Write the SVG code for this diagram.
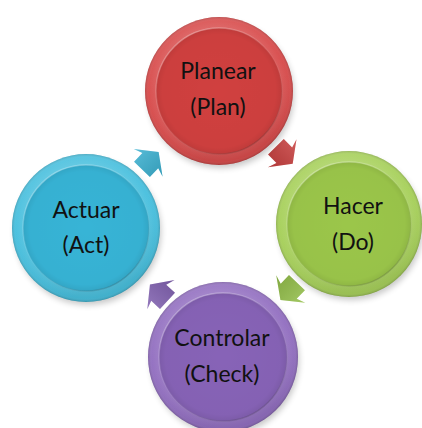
<svg xmlns="http://www.w3.org/2000/svg" width="422" height="428" viewBox="0 0 422 428">
  <style>
    .label { font-family: Lato, "Liberation Sans", sans-serif; font-size: 23px; fill: #111; text-anchor: middle; }
    .shade { fill: url(#rimShade); }
    .light { fill: url(#topLight); }
    .bevel { fill: url(#innerBevel); }
    .edge { fill: none; stroke: url(#edgeStroke); stroke-width: 1.5; }
    .shadow { fill: #000; opacity: 0.22; filter: url(#soft); }
    .arrow-shade { fill: url(#arrowLight); }
  </style>
  <defs>
    <filter id="soft" x="-20%" y="-20%" width="140%" height="140%">
      <feGaussianBlur stdDeviation="3"/>
    </filter>
    <!-- soft shading toward the outer edge of each disc -->
    <radialGradient id="rimShade" cx="0.5" cy="0.5" r="0.5">
      <stop offset="0" stop-color="#000" stop-opacity="0"/>
      <stop offset="0.86" stop-color="#fff" stop-opacity="0.08"/>
      <stop offset="0.95" stop-color="#fff" stop-opacity="0.02"/>
      <stop offset="1" stop-color="#000" stop-opacity="0.16"/>
    </radialGradient>
    <linearGradient id="topLight" x1="0" y1="0" x2="0.3" y2="1">
      <stop offset="0" stop-color="#fff" stop-opacity="0.14"/>
      <stop offset="0.5" stop-color="#fff" stop-opacity="0.03"/>
      <stop offset="1" stop-color="#000" stop-opacity="0.08"/>
    </linearGradient>
    <!-- inner face of each disc -->
    <radialGradient id="innerBevel" cx="0.5" cy="0.5" r="0.5">
      <stop offset="0" stop-color="#000" stop-opacity="0"/>
      <stop offset="0.9" stop-color="#000" stop-opacity="0.02"/>
      <stop offset="1" stop-color="#000" stop-opacity="0.08"/>
    </radialGradient>
    <linearGradient id="edgeStroke" x1="0.2" y1="0" x2="0.8" y2="1">
      <stop offset="0" stop-color="#fff" stop-opacity="0.35"/>
      <stop offset="0.5" stop-color="#fff" stop-opacity="0.05"/>
      <stop offset="1" stop-color="#000" stop-opacity="0.2"/>
    </linearGradient>
    <linearGradient id="arrowLight" x1="0" y1="0" x2="0" y2="1">
      <stop offset="0" stop-color="#fff" stop-opacity="0.15"/>
      <stop offset="1" stop-color="#000" stop-opacity="0.12"/>
    </linearGradient>
    <!-- block arrow pointing along +x, centred on the origin -->
    <polygon id="arrowShape" points="-13,-11 -1,-11 -4,-20 11,0 -4,20 -1,11 -13,11"/>
  </defs>

  <g id="connectors">
    <g transform="translate(285,156) rotate(45.6)">
      <use href="#arrowShape" fill="#c9403f"/>
      <use href="#arrowShape" class="arrow-shade"/>
    </g>
    <g transform="translate(288,292) rotate(133.5)">
      <use href="#arrowShape" fill="#94c04a"/>
      <use href="#arrowShape" class="arrow-shade"/>
    </g>
    <g transform="translate(158,292) rotate(223)">
      <use href="#arrowShape" fill="#8262b2"/>
      <use href="#arrowShape" class="arrow-shade"/>
    </g>
    <g transform="translate(151,160) rotate(-46)">
      <use href="#arrowShape" fill="#3cb2d2"/>
      <use href="#arrowShape" class="arrow-shade"/>
    </g>
  </g>

  <g id="plan">
    <circle class="shadow" cx="221" cy="95" r="73"/>
    <circle cx="219" cy="91" r="74" fill="#d74848"/>
    <circle class="shade" cx="219" cy="91" r="74"/>
    <circle class="light" cx="219" cy="91" r="74"/>
    <circle cx="219" cy="91" r="63" fill="#d0403f"/>
    <circle class="bevel" cx="219" cy="91" r="63"/>
    <circle class="edge" cx="219" cy="91" r="63"/>
    <text class="label" x="218" y="79">Planear</text>
    <text class="label" x="218" y="115">(Plan)</text>
  </g>

  <g id="do">
    <circle class="shadow" cx="351" cy="228" r="72"/>
    <circle cx="349" cy="224" r="73" fill="#a5cf57"/>
    <circle class="shade" cx="349" cy="224" r="73"/>
    <circle class="light" cx="349" cy="224" r="73"/>
    <circle cx="349" cy="224" r="62" fill="#9bc64a"/>
    <circle class="bevel" cx="349" cy="224" r="62"/>
    <circle class="edge" cx="349" cy="224" r="62"/>
    <text class="label" x="353" y="214">Hacer</text>
    <text class="label" x="353" y="250">(Do)</text>
  </g>

  <g id="check">
    <circle class="shadow" cx="225" cy="361" r="74"/>
    <circle cx="223" cy="357" r="75" fill="#906cbf"/>
    <circle class="shade" cx="223" cy="357" r="75"/>
    <circle class="light" cx="223" cy="357" r="75"/>
    <circle cx="223" cy="357" r="64" fill="#8763b7"/>
    <circle class="bevel" cx="223" cy="357" r="64"/>
    <circle class="edge" cx="223" cy="357" r="64"/>
    <text class="label" x="222" y="346">Controlar</text>
    <text class="label" x="222" y="382">(Check)</text>
  </g>

  <g id="act">
    <circle class="shadow" cx="88" cy="232" r="73"/>
    <circle cx="86" cy="228" r="74" fill="#44bedd"/>
    <circle class="shade" cx="86" cy="228" r="74"/>
    <circle class="light" cx="86" cy="228" r="74"/>
    <circle cx="86" cy="228" r="63" fill="#37b4d6"/>
    <circle class="bevel" cx="86" cy="228" r="63"/>
    <circle class="edge" cx="86" cy="228" r="63"/>
    <text class="label" x="86" y="218">Actuar</text>
    <text class="label" x="86" y="253">(Act)</text>
  </g>
</svg>
